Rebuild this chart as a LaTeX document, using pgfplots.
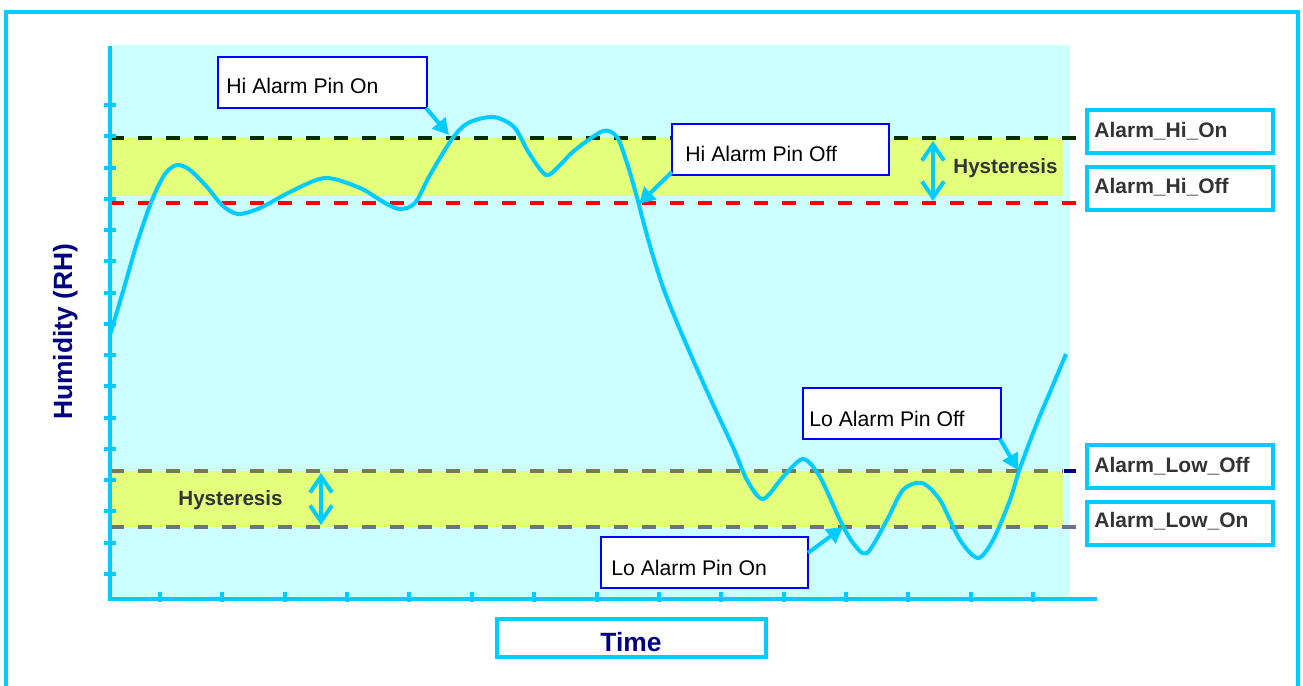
\documentclass[border=0pt]{standalone}
\usepackage{fontspec}
\setmainfont{Liberation Sans}
\usepackage{pgfplots}
\pgfplotsset{compat=1.18}
\usetikzlibrary{arrows.meta}

\definecolor{skyline}{HTML}{00CCFF}
\definecolor{plotbg}{HTML}{CCFFFF}
\definecolor{band}{HTML}{E3FF7B}
\definecolor{callout}{HTML}{0000FF}
\definecolor{labelgray}{HTML}{333333}
\definecolor{navy}{HTML}{000080}
\definecolor{hion}{HTML}{0A2A00}
\definecolor{lowoff}{HTML}{7A7A50}
\definecolor{lowon}{HTML}{6E6E96}

\begin{document}
\begin{tikzpicture}
% one axis in pixel units of the reference (y grows downwards)
\begin{axis}[
    hide axis, scale only axis,
    width=651.5pt, height=343pt,
    xmin=0, xmax=1303, ymin=0, ymax=686,
    y dir=reverse, clip=false,
]

% outer frame
\draw[skyline, line width=2pt] (axis cs:6,690) -- (axis cs:6,12) -- (axis cs:1298,12) -- (axis cs:1298,690);

% plot area and hysteresis bands
\fill[plotbg] (axis cs:110,45) rectangle (axis cs:1070,599);
\fill[band] (axis cs:111,138) rectangle (axis cs:1063,196);
\fill[band] (axis cs:111,471) rectangle (axis cs:1063,527);

% thresholds
\addplot[hion, line width=2pt, dash pattern=on 7pt off 7pt] coordinates {(110,138) (1076,138)};
\addplot[red, line width=2pt, dash pattern=on 7pt off 7pt] coordinates {(110,203) (1076,203)};
\addplot[lowoff, line width=2pt, dash pattern=on 7pt off 7pt] coordinates {(110,471) (1063,471)};
\addplot[navy, line width=2pt] coordinates {(1064,471) (1076,471)};
\addplot[lowon, line width=2pt, dash pattern=on 7pt off 7pt] coordinates {(110,527) (1076,527)};

% axes with ticks
\draw[skyline, line width=1.8pt] (axis cs:110,46) -- (axis cs:110,599) -- (axis cs:1097,599);
\pgfplotsinvokeforeach{105,136,168,199,230,261,293,324,355,386,418,449,480,511,543,574}{
  \draw[skyline, line width=1.6pt] (axis cs:104,#1) -- (axis cs:116,#1);
}
\pgfplotsinvokeforeach{160,222,285,347,409,472,534,597,659,721,784,846,908,971,1033}{
  \draw[skyline, line width=1.6pt] (axis cs:#1,592) -- (axis cs:#1,602);
}

% humidity over time
\addplot[skyline, line width=2pt, smooth] coordinates {
(110,335) (124,288) (137,243) (152,200) (165,174) (177,165) (190,170)
(207,187) (222,205) (238,214) (260,208) (290,192) (325,178) (360,188)
(385,203) (400,209) (415,203) (430,175) (452,139) (468,123) (493,117)
(514,127) (529,153) (546,175) (560,165) (575,150) (603,131) (617,137)
(626,160) (633,183) (639,205) (645,228) (653,256) (664,290) (678,325)
(694,362) (711,400) (733,447) (747,480) (763,499) (783,477) (803,459) (820,477)
(840,520) (853,543) (867,553) (887,520) (903,490) (922,483) (940,500)
(960,540) (978,558) (993,540) (1010,500) (1020,468) (1037,423)
(1053,385) (1066,354)
};

% hysteresis arrows and labels
\draw[skyline, line width=2pt, {Straight Barb[length=8pt,width=11pt]}-{Straight Barb[length=8pt,width=11pt]}]
  (axis cs:933,141) -- (axis cs:933,201);
\draw[skyline, line width=2pt, {Straight Barb[length=8pt,width=11pt]}-{Straight Barb[length=8pt,width=11pt]}]
  (axis cs:321,473) -- (axis cs:321,525);
\node[anchor=base west, inner sep=0pt, text=labelgray, font=\fontsize{10.3pt}{12pt}\selectfont\bfseries]
  at (axis cs:953,173) {Hysteresis};
\node[anchor=base west, inner sep=0pt, text=labelgray, font=\fontsize{10.3pt}{12pt}\selectfont\bfseries]
  at (axis cs:178,505) {Hysteresis};

% callouts
\filldraw[fill=white, draw=callout, line width=1pt] (axis cs:218,57) rectangle (axis cs:427,108);
\node[anchor=base west, inner sep=0pt, font=\fontsize{10.6pt}{12pt}\selectfont] at (axis cs:226,93) {Hi Alarm Pin On};
\draw[skyline, line width=2pt, -{Triangle[length=8pt,width=8.5pt]}] (axis cs:426,108) -- (axis cs:449,135);

\filldraw[fill=white, draw=callout, line width=1pt] (axis cs:672,124) rectangle (axis cs:889,175);
\node[anchor=base west, inner sep=0pt, font=\fontsize{10.6pt}{12pt}\selectfont] at (axis cs:685,161) {Hi Alarm Pin Off};
\draw[skyline, line width=2pt, -{Triangle[length=8pt,width=8.5pt]}] (axis cs:672,172) -- (axis cs:639,204);

\filldraw[fill=white, draw=callout, line width=1pt] (axis cs:803,388) rectangle (axis cs:1001,439);
\node[anchor=base west, inner sep=0pt, font=\fontsize{10.6pt}{12pt}\selectfont] at (axis cs:809,426) {Lo Alarm Pin Off};
\draw[skyline, line width=2pt, -{Triangle[length=8pt,width=8.5pt]}] (axis cs:1000,439) -- (axis cs:1018,470);

\filldraw[fill=white, draw=callout, line width=1pt] (axis cs:601,537) rectangle (axis cs:808,588);
\node[anchor=base west, inner sep=0pt, font=\fontsize{10.6pt}{12pt}\selectfont] at (axis cs:611,575) {Lo Alarm Pin On};
\draw[skyline, line width=2pt, -{Triangle[length=8pt,width=8.5pt]}] (axis cs:808,553) -- (axis cs:843,527);

% threshold names
\filldraw[fill=white, draw=skyline, line width=2pt] (axis cs:1087,110) rectangle (axis cs:1273,153);
\filldraw[fill=white, draw=skyline, line width=2pt] (axis cs:1087,167) rectangle (axis cs:1273,210);
\filldraw[fill=white, draw=skyline, line width=2pt] (axis cs:1087,445) rectangle (axis cs:1273,488);
\filldraw[fill=white, draw=skyline, line width=2pt] (axis cs:1087,502) rectangle (axis cs:1273,545);
\node[anchor=base west, inner sep=0pt, text=labelgray, font=\fontsize{10.5pt}{12pt}\selectfont\bfseries] at (axis cs:1094,137) {Alarm\_Hi\_On};
\node[anchor=base west, inner sep=0pt, text=labelgray, font=\fontsize{10.5pt}{12pt}\selectfont\bfseries] at (axis cs:1094,193) {Alarm\_Hi\_Off};
\node[anchor=base west, inner sep=0pt, text=labelgray, font=\fontsize{10.5pt}{12pt}\selectfont\bfseries] at (axis cs:1094,472) {Alarm\_Low\_Off};
\node[anchor=base west, inner sep=0pt, text=labelgray, font=\fontsize{10.5pt}{12pt}\selectfont\bfseries] at (axis cs:1094,527) {Alarm\_Low\_On};

% axis titles
\filldraw[fill=white, draw=skyline, line width=2pt] (axis cs:497,619) rectangle (axis cs:766,657);
\node[anchor=base, inner sep=0pt, text=navy, font=\fontsize{13.2pt}{15pt}\selectfont\bfseries] at (axis cs:631,651) {Time};
\node[anchor=base, rotate=90, inner sep=0pt, text=navy, font=\fontsize{13.2pt}{15pt}\selectfont\bfseries] at (axis cs:72,332) {Humidity (RH)};

\end{axis}
\pgfresetboundingbox
\path (current axis.south west) rectangle (current axis.north east);
\end{tikzpicture}
\end{document}
